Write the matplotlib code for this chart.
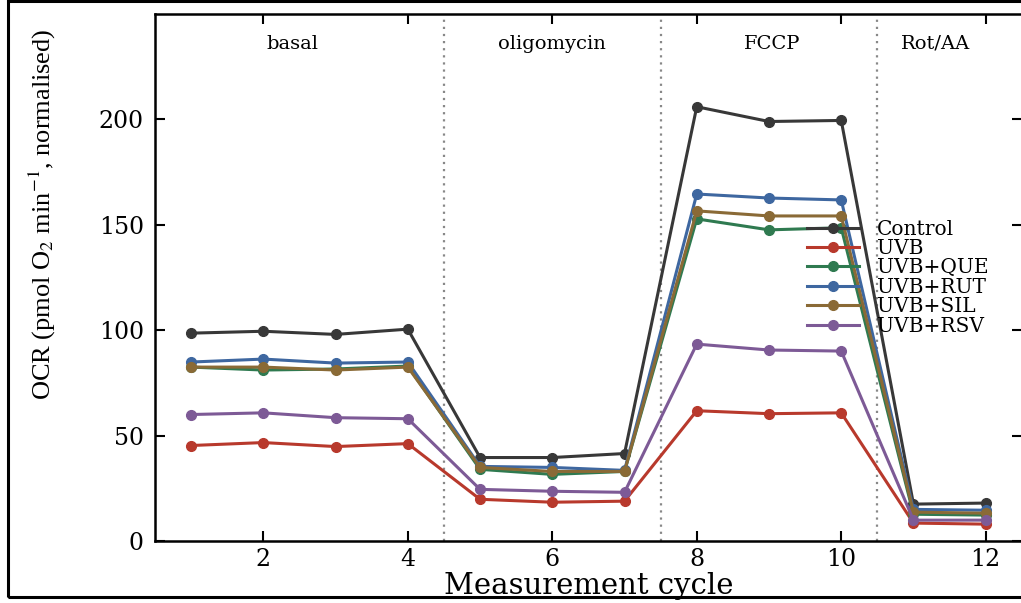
import matplotlib
matplotlib.use("Agg")
import matplotlib.pyplot as plt
from matplotlib.patches import Rectangle

# Measurement cycles and OCR values (normalised)
cycles = [1, 2, 3, 4, 5, 6, 7, 8, 9, 10, 11, 12]
control = [98.6, 99.5, 98.0, 100.5, 39.6, 39.6, 41.5, 206.0, 199.0, 199.5, 17.5, 18.0]
uvb = [45.3, 46.7, 44.8, 46.2, 19.8, 18.4, 18.9, 61.8, 60.4, 60.8, 8.5, 8.0]
uvb_que = [82.5, 81.1, 81.6, 83.0, 34.0, 31.6, 33.0, 152.8, 147.6, 148.6, 12.7, 12.3]
uvb_rut = [84.9, 86.3, 84.4, 84.9, 35.4, 34.9, 33.5, 164.6, 162.7, 161.8, 15.0, 14.6]
uvb_sil = [82.5, 82.5, 81.1, 82.5, 34.9, 33.0, 33.0, 156.6, 154.2, 154.2, 13.7, 13.2]
uvb_rsv = [60.0, 60.8, 58.5, 58.0, 24.5, 23.6, 23.1, 93.4, 90.6, 90.1, 9.9, 9.9]

series = [
    ("Control", control, "#383838"),
    ("UVB", uvb, "#b8392c"),
    ("UVB+QUE", uvb_que, "#2f7a50"),
    ("UVB+RUT", uvb_rut, "#3e67a0"),
    ("UVB+SIL", uvb_sil, "#8a6a36"),
    ("UVB+RSV", uvb_rsv, "#7d5a96"),
]

phases = ["basal", "oligomycin", "FCCP", "Rot/AA"]
phase_pos = [2.4, 6.0, 9.05, 11.3]
injections = [4.5, 7.5, 10.5]

plt.rcParams["mathtext.fontset"] = "stix"

fig = plt.figure(figsize=(10.21, 6.03), dpi=100)
ax = fig.add_axes([0.1518, 0.1028, 0.849, 0.874])

for name, vals, col in series:
    ax.plot(cycles, vals, color=col, lw=2.2, marker="o", ms=7, label=name)

for xv in injections:
    ax.axvline(xv, color="#888888", ls=(0, (1, 2.2)), lw=1.6, zorder=0)

for lab, xp in zip(phases, phase_pos):
    ax.text(xp, 236, lab, ha="center", va="center", family="DejaVu Serif", fontsize=14)

ax.set_xlim(0.5, 12.5)
ax.set_ylim(0, 250)
ax.set_xticks([2, 4, 6, 8, 10, 12])
ax.set_yticks([0, 50, 100, 150, 200])
ax.tick_params(direction="in", top=True, right=True, length=7, width=1.5, labelsize=17)
ax.tick_params(axis="x", pad=5)
ax.tick_params(axis="y", pad=8)
for lbl in ax.get_xticklabels() + ax.get_yticklabels():
    lbl.set_family("DejaVu Serif")
for sp in ax.spines.values():
    sp.set_linewidth(1.8)

ax.set_xlabel("Measurement cycle", family="DejaVu Serif", fontsize=21)
ax.xaxis.set_label_coords(0.5, -0.058)
ax.set_ylabel(r"OCR (pmol O$_2$ min$^{-1}$, normalised)", family="Liberation Serif",
              fontsize=19)
ax.yaxis.set_label_coords(-0.112, 0.62)

leg = ax.legend(loc="upper left", bbox_to_anchor=(0.74, 0.629), frameon=False,
                prop={"family": "DejaVu Serif", "size": 14.5}, handlelength=2.6,
                handletextpad=0.9, labelspacing=0.02, borderpad=0)

# outer frame around the figure
fig.patches.append(Rectangle((8 / 1021, 6 / 603), 1.02, 0.988, transform=fig.transFigure,
                             fill=False, edgecolor="black", lw=2.2))

fig.savefig("out.png", dpi=100)
